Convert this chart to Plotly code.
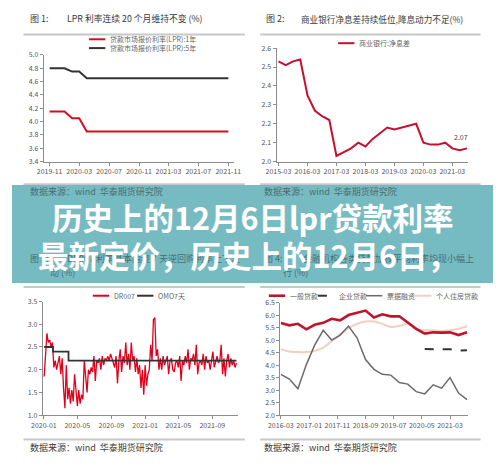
import pandas as pd
import plotly.graph_objects as go

W, H = 500, 471

# ---- 图1: LPR (monthly) ----
lpr_months = pd.date_range("2019-11-01", "2021-11-01", freq="MS")
lpr_1y = [4.15, 4.15, 4.15, 4.05, 4.05] + [3.85] * 20
lpr_5y = [4.80, 4.80, 4.80, 4.75, 4.75] + [4.65] * 20
lpr_ticks = ["2019-11", "2020-03", "2020-07", "2020-11", "2021-03", "2021-07", "2021-11"]

# ---- 图2: 商业银行净息差 (quarterly) ----
nim_quarters = pd.date_range("2015-03-01", periods=27, freq="3MS")
nim = [2.53, 2.51, 2.53, 2.54, 2.35, 2.27, 2.24, 2.22, 2.03, 2.05, 2.07, 2.10, 2.08, 2.12,
       2.15, 2.18, 2.17, 2.18, 2.19, 2.20, 2.10, 2.09, 2.09, 2.10, 2.07, 2.06, 2.07]
nim_ticks = ["2015-03", "2016-03", "2017-03", "2018-03", "2019-03", "2020-03", "2021-03"]
nim_last_label = "2.07"

# ---- 图3: DR007 与 OMO 7天 ----
dr007 = [1.85, 2.45, 2.8, 2.6, 2.65, 2.5, 2.6, 2.05, 2.2, 2.0,
         2.15, 2.3, 1.9, 2.25, 1.6, 1.15, 2.1, 1.35, 1.6, 1.25,
         1.55, 1.3, 1.9, 1.45, 1.2, 1.55, 1.25, 1.45, 1.35, 2.2,
         1.75, 1.5, 2.0, 1.9, 2.05, 1.95, 2.3, 1.75, 2.2, 2.15,
         2.25, 2.0, 2.3, 2.1, 2.25, 2.2, 2.3, 2.2, 2.35, 2.25,
         2.2, 2.05, 2.3, 1.7, 2.2, 2.45, 1.95, 2.3, 2.15, 2.6,
         2.1, 2.35, 2.0, 2.6, 2.2, 2.3, 1.95, 2.25, 1.9, 2.1,
         1.6, 2.0, 1.45, 2.1, 1.65, 1.9, 2.0, 2.55, 2.2, 3.1,
         3.15, 2.3, 2.45, 2.0, 2.25, 2.0, 2.3, 2.1, 2.2, 2.3,
         1.9, 2.2, 2.25, 2.0, 1.95, 2.15, 2.2, 2.05, 2.3, 1.75,
         2.2, 2.1, 2.3, 2.15, 2.45, 2.0, 2.25, 2.2, 2.35, 2.1,
         2.55, 1.9, 2.15, 2.2, 2.1, 2.35, 2.0, 2.3, 2.15, 2.2,
         2.0, 2.25, 2.4, 2.05, 2.2, 2.3, 2.15, 2.2, 2.55, 1.9,
         2.25, 1.85, 2.2, 2.35, 2.05, 2.25, 2.1, 2.2, 2.05, 2.15]
dr007_dates = pd.date_range("2020-01-02", periods=len(dr007), freq="5D")
omo_dates = ["2020-01-02", "2020-02-03", "2020-03-30", str(dr007_dates[-1].date())]
omo_7d = [2.50, 2.40, 2.20, 2.20]
dr_ticks = ["2020-01", "2020-05", "2020-09", "2021-01", "2021-05", "2021-09"]

# ---- 图4: 贷款加权平均利率 (quarterly) ----
loan_quarters = pd.date_range("2016-03-01", periods=23, freq="3MS")
loan_general = [5.68, 5.59, 5.65, 5.43, 5.61, 5.69, 5.85, 5.79, 6.00, 6.08, 6.18, 5.90,
                6.03, 5.95, 5.95, 5.70, 5.45, 5.26, 5.31, 5.30, 5.31, 5.20, 5.31]
loan_corporate = [None] * 17 + [4.64, 4.63, 4.61, 4.63, 4.58, 4.59]
loan_bill = [3.63, 3.44, 3.05, 4.02, 4.80, 5.39, 5.00, 5.20, 5.56, 5.09, 4.22, 3.83,
             3.63, 3.60, 3.30, 3.24, 2.94, 2.85, 3.21, 3.08, 3.50, 2.88, 2.62]
loan_mortgage = [4.64, 4.54, 4.52, 4.52, 4.57, 4.70, 4.96, 5.22, 5.48, 5.65, 5.74, 5.74,
                 5.65, 5.52, 5.56, 5.65, 5.45, 5.39, 5.39, 5.36, 5.39, 5.45, 5.55]
loan_ticks = ["2016-03", "2017-01", "2017-11", "2018-09", "2019-07", "2020-05", "2021-03"]

headline = ["历史上的12月6日lpr贷款利率", "最新定价，历史上的12月6日，"]
source_text = "数据来源：wind  华泰期货研究院"

FONT = "Noto Sans CJK SC, sans-serif"
RED = "#d0101e"
DARK = "#333333"


def px(x):
    return x / W


def py(y):
    return 1 - y / H


fig = go.Figure()

# ---- traces ----
fig.add_trace(go.Scatter(x=lpr_months, y=lpr_1y, mode="lines", line=dict(color=RED, width=2),
                         xaxis="x", yaxis="y", showlegend=False))
fig.add_trace(go.Scatter(x=lpr_months, y=lpr_5y, mode="lines", line=dict(color=DARK, width=2),
                         xaxis="x", yaxis="y", showlegend=False))
fig.add_trace(go.Scatter(x=nim_quarters, y=nim, mode="lines", line=dict(color="#c8102e", width=2),
                         xaxis="x2", yaxis="y2", showlegend=False))
fig.add_trace(go.Scatter(x=dr007_dates, y=dr007, mode="lines", line=dict(color="#e3001b", width=1.3),
                         xaxis="x3", yaxis="y3", showlegend=False))
fig.add_trace(go.Scatter(x=omo_dates, y=omo_7d, mode="lines", line=dict(color=DARK, width=1.8, shape="hv"),
                         xaxis="x3", yaxis="y3", showlegend=False))
fig.add_trace(go.Scatter(x=loan_quarters, y=loan_mortgage, mode="lines",
                         line=dict(color="#f3cfc2", width=2, shape="spline", smoothing=0.6),
                         xaxis="x4", yaxis="y4", showlegend=False))
fig.add_trace(go.Scatter(x=loan_quarters, y=loan_bill, mode="lines", line=dict(color="#6b6b6b", width=1.5),
                         xaxis="x4", yaxis="y4", showlegend=False))
fig.add_trace(go.Scatter(x=loan_quarters, y=loan_corporate, mode="lines",
                         line=dict(color=DARK, width=2, dash="dash"),
                         xaxis="x4", yaxis="y4", showlegend=False))
fig.add_trace(go.Scatter(x=loan_quarters, y=loan_general, mode="lines", line=dict(color="#c0142c", width=2.6),
                         xaxis="x4", yaxis="y4", showlegend=False))

# ---- axes ----
axis_common = dict(showline=True, linecolor="#8c8c8c", linewidth=1, ticks="outside", ticklen=3,
                   tickcolor="#8c8c8c", showgrid=False, zeroline=False,
                   tickfont=dict(size=7, color="#555", family=FONT))


def xaxis(dom, rng, ticks, anchor):
    return dict(axis_common, domain=[px(dom[0]), px(dom[1])], range=rng, type="date",
                tickvals=[t + "-01" for t in ticks], ticktext=ticks, anchor=anchor)


def yaxis(dom, rng, dtick, anchor):
    return dict(axis_common, domain=[py(dom[1]), py(dom[0])], range=rng, dtick=dtick,
                tick0=rng[0], tickformat=".1f", anchor=anchor)


fig.update_layout(
    xaxis=xaxis((33, 231), ["2019-10-08", "2021-11-25"], lpr_ticks, "y"),
    yaxis=yaxis((50, 159), [3.4, 5.0], 0.2, "x"),
    xaxis2=xaxis((275, 474), ["2015-02-05", "2021-09-14"], nim_ticks, "y2"),
    yaxis2=yaxis((43, 159), [2.0, 2.6], 0.1, "x2"),
    xaxis3=xaxis((32, 235), ["2019-12-28", "2021-12-03"], dr_ticks, "y3"),
    yaxis3=yaxis((302, 418), [1.0, 3.5], 0.5, "x3"),
    xaxis4=xaxis((279, 474), ["2016-02-25", "2021-09-11"], loan_ticks, "y4"),
    yaxis4=yaxis((303, 418), [2.0, 6.5], 0.5, "x4"),
)

shapes = []
annotations = []


def hline(x0, x1, y, color="#c8c8c8", width=2, dash=None):
    shapes.append(dict(type="line", xref="paper", yref="paper", x0=px(x0), x1=px(x1), y0=py(y), y1=py(y),
                       line=dict(color=color, width=width, dash=dash), layer="below"))


def text(x, y, s, size=9, color="#3a3a3a", anchor="left", weight="normal"):
    annotations.append(dict(xref="paper", yref="paper", x=px(x), y=py(y), text=s, showarrow=False,
                            xanchor=anchor, yanchor="middle",
                            font=dict(size=size, color=color, family=FONT, weight=weight)))


def legend_item(x, y, label, color, width=2, dash=None):
    hline(x, x + 17, y, color=color, width=width, dash=dash)
    text(x + 20, y, label, size=7, color="#666")


# section rules
for x0, x1 in ((12, 242), (258, 487)):
    hline(x0, x1, 29)
    hline(x0, x1, 182)
    hline(x0, x1, 287)
    hline(x0, x1, 443)

# titles of the upper panels
text(17, 13, "图 1:")
text(55, 13, "LPR 利率连续 20 个月维持不变 (%)", size=8.8)
text(262, 13, "图 2:")
text(298, 13, "商业银行净息差持续低位,降息动力不足(%)", size=8.6)

# legends
legend_item(80, 34, "贷款市场报价利率(LPR):1年", RED)
legend_item(80, 43, "贷款市场报价利率(LPR):5年", DARK)
legend_item(339, 38, "商业银行:净息差", "#c8102e")
legend_item(84, 296, "DR007", "#e3001b")
legend_item(130, 296, "OMO7天", DARK)
legend_item(267, 296, "一般贷款", "#c0142c", width=2.6)
legend_item(318, 296, "企业贷款", DARK, dash="dash")
legend_item(368, 296, "票据融资", "#6b6b6b", width=1.5)
legend_item(419, 296, "个人住房贷款", "#f3cfc2")

# value label on the last net-interest-margin point
annotations.append(dict(xref="x2", yref="y2", x=nim_quarters[-1], y=nim[-1], text=nim_last_label,
                        showarrow=False, xshift=-6, yshift=11,
                        font=dict(size=7, color="#444", family=FONT)))

# bottom source lines
text(17, 451, source_text, size=9)
text(260, 451, source_text, size=9)

# translucent banner across the middle
shapes.append(dict(type="rect", xref="paper", yref="paper", x0=0, x1=1, y0=py(283), y1=py(183),
                   fillcolor="rgba(100,178,186,0.88)", line=dict(width=0), layer="above"))

# text sitting underneath the banner
shade = "#476e72"
text(17, 190, source_text, size=9, color=shade)
text(260, 190, source_text, size=9, color=shade)
text(17, 258, "图 3:", color=shade)
text(55, 258, "DR007 利率基本围绕 7 天逆回购利率上下波", size=9, color=shade)
text(37, 272, "动 (%)", size=9, color=shade)
text(260, 258, "图 4:", color=shade)
text(300, 258, "金融机构各类贷款加权平均利率均现小幅上", size=9, color=shade)
text(280, 272, "行 (%)", size=9, color=shade)

# headline
text(250, 216, headline[0], size=30.5, color="white", weight="bold", anchor="center")
text(245, 254, headline[1], size=30.5, color="white", weight="bold", anchor="center")

fig.update_layout(
    width=W, height=H, margin=dict(l=0, r=0, t=0, b=0),
    paper_bgcolor="white", plot_bgcolor="white",
    font=dict(family=FONT),
    shapes=shapes, annotations=annotations, showlegend=False,
)

fig.write_html("out.html")
